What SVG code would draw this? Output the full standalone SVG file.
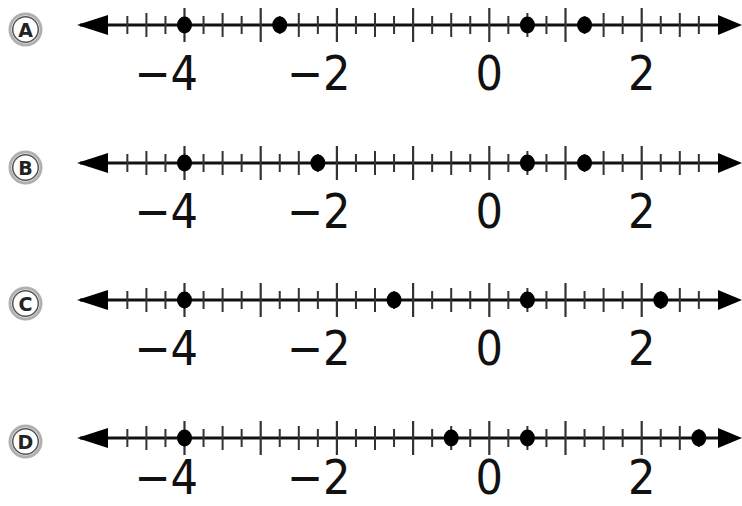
<svg xmlns="http://www.w3.org/2000/svg" xmlns:xlink="http://www.w3.org/1999/xlink" width="742" height="506" viewBox="0 0 742 506">
<style>
.axis{stroke:#111;stroke-width:3;fill:none}
.maj{stroke:#333;stroke-width:2.2;fill:none}
.half{stroke:#333;stroke-width:2;fill:none}
.qtr{stroke:#333;stroke-width:2;fill:none}
.arrow{fill:#000}
.dot{fill:#000}
.num{font-family:"DejaVu Sans Condensed","DejaVu Sans",sans-serif;font-size:48px;fill:#111}
.ring1{fill:#fff;stroke:#b0b0b0;stroke-width:3}
.ring2{fill:none;stroke:#555;stroke-width:1.5}
.letter{font-family:"DejaVu Sans",sans-serif;font-size:19px;font-weight:bold;fill:#222;text-anchor:middle}
</style>
<defs>
<g id="line">
<path class="axis" d="M80 0H736"/>
<path class="maj" d="M184.5 -17V17M260.7 -17V17M336.9 -17V17M413.1 -17V17M489.3 -17V17M565.5 -17V17M641.7 -17V17"/>
<path class="half" d="M146.4 -12V12M222.6 -12V12M298.8 -12V12M375 -12V12M451.2 -12V12M527.4 -12V12M603.6 -12V12M679.8 -12V12"/>
<path class="qtr" d="M127.35 -9V9M165.45 -9V9M203.55 -9V9M241.65 -9V9M279.75 -9V9M317.85 -9V9M355.95 -9V9M394.05 -9V9M432.15 -9V9M470.25 -9V9M508.35 -9V9M546.45 -9V9M584.55 -9V9M622.65 -9V9M660.75 -9V9M698.85 -9V9"/>
<polygon class="arrow" points="77,0 108,-10 108,10"/>
<polygon class="arrow" points="742,0 718,-10 718,10"/>
</g>
<g id="badge">
<circle class="ring1" r="15.5"/>
<circle class="ring2" r="12.8"/>
</g>
</defs>

<g id="lineA">
<use xlink:href="#badge" href="#badge" x="25.5" y="29.5"/>
<text class="letter" x="25.5" y="36.5">A</text>
<use xlink:href="#line" href="#line" x="0" y="25"/>
<ellipse class="dot" cx="184.5" cy="25" rx="7.5" ry="8.5"/>
<ellipse class="dot" cx="279.75" cy="25" rx="7.5" ry="8.5"/>
<ellipse class="dot" cx="527.4" cy="25" rx="7.5" ry="8.5"/>
<ellipse class="dot" cx="584.55" cy="25" rx="7.5" ry="8.5"/>
<text class="num" x="198" y="90" text-anchor="end">−4</text>
<text class="num" x="350.5" y="90" text-anchor="end">−2</text>
<text class="num" x="489.3" y="90" text-anchor="middle">0</text>
<text class="num" x="641.7" y="90" text-anchor="middle">2</text>
</g>

<g id="lineB">
<use xlink:href="#badge" href="#badge" x="25.5" y="167.5"/>
<text class="letter" x="25.5" y="174.5">B</text>
<use xlink:href="#line" href="#line" x="0" y="163"/>
<ellipse class="dot" cx="184.5" cy="163" rx="7.5" ry="8.5"/>
<ellipse class="dot" cx="317.85" cy="163" rx="7.5" ry="8.5"/>
<ellipse class="dot" cx="527.4" cy="163" rx="7.5" ry="8.5"/>
<ellipse class="dot" cx="584.55" cy="163" rx="7.5" ry="8.5"/>
<text class="num" x="198" y="228" text-anchor="end">−4</text>
<text class="num" x="350.5" y="228" text-anchor="end">−2</text>
<text class="num" x="489.3" y="228" text-anchor="middle">0</text>
<text class="num" x="641.7" y="228" text-anchor="middle">2</text>
</g>

<g id="lineC">
<use xlink:href="#badge" href="#badge" x="25.5" y="303.5"/>
<text class="letter" x="25.5" y="310.5">C</text>
<use xlink:href="#line" href="#line" x="0" y="300"/>
<ellipse class="dot" cx="184.5" cy="300" rx="7.5" ry="8.5"/>
<ellipse class="dot" cx="394.05" cy="300" rx="7.5" ry="8.5"/>
<ellipse class="dot" cx="527.4" cy="300" rx="7.5" ry="8.5"/>
<ellipse class="dot" cx="660.75" cy="300" rx="7.5" ry="8.5"/>
<text class="num" x="198" y="365" text-anchor="end">−4</text>
<text class="num" x="350.5" y="365" text-anchor="end">−2</text>
<text class="num" x="489.3" y="365" text-anchor="middle">0</text>
<text class="num" x="641.7" y="365" text-anchor="middle">2</text>
</g>

<g id="lineD">
<use xlink:href="#badge" href="#badge" x="25.5" y="441.5"/>
<text class="letter" x="25.5" y="448.5">D</text>
<use xlink:href="#line" href="#line" x="0" y="438"/>
<ellipse class="dot" cx="184.5" cy="438" rx="7.5" ry="8.5"/>
<ellipse class="dot" cx="451.2" cy="438" rx="7.5" ry="8.5"/>
<ellipse class="dot" cx="527.4" cy="438" rx="7.5" ry="8.5"/>
<ellipse class="dot" cx="698.85" cy="438" rx="7.5" ry="8.5"/>
<text class="num" x="198" y="494" text-anchor="end">−4</text>
<text class="num" x="350.5" y="494" text-anchor="end">−2</text>
<text class="num" x="489.3" y="494" text-anchor="middle">0</text>
<text class="num" x="641.7" y="494" text-anchor="middle">2</text>
</g>
</svg>
